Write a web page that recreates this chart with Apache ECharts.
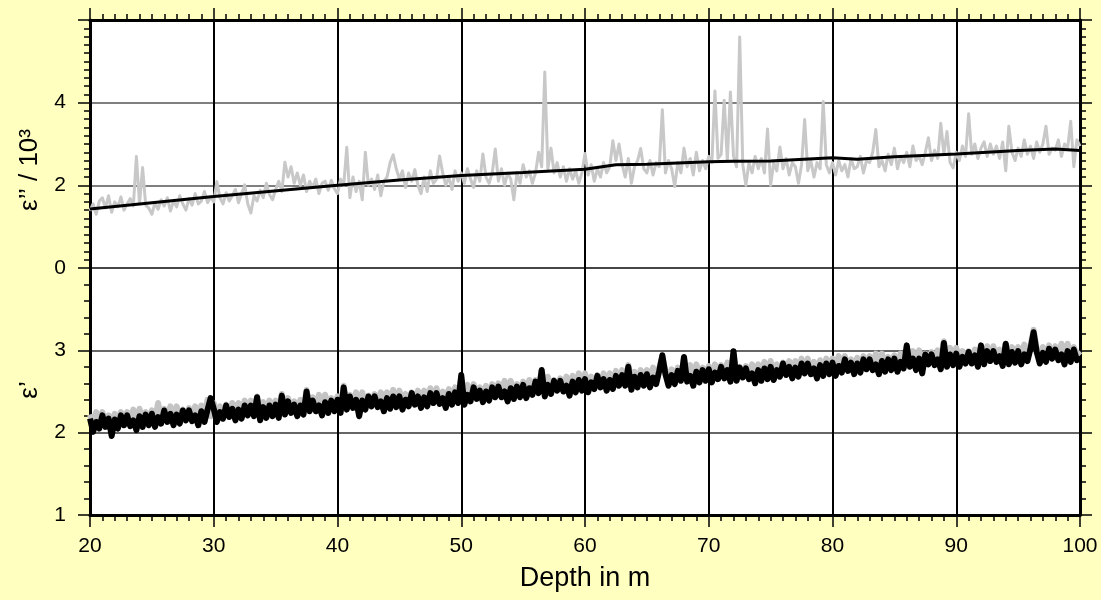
<!DOCTYPE html>
<html>
<head>
<meta charset="utf-8">
<script src="https://cdn.jsdelivr.net/npm/echarts@6.0.0/dist/echarts.min.js"></script>
<style>
html,body{margin:0;padding:0;background:#ffffc0;}
#chart{width:1101px;height:600px;}
</style>
</head>
<body>
<div id="chart"></div>
<script>
// Depth grid: 20 m to 100 m in 0.25 m steps
const depthStart = 20;
const depthStep = 0.25;

// Top panel: epsilon'' / 10^3 (grey raw trace)
const epsDoubleRaw = [
1.38,1.55,1.30,1.62, 1.70,1.45,1.75,1.35, 1.60,1.48,1.72,1.40, 1.55,1.68,1.50,2.70, 1.55,2.43,1.52,1.45,
1.30,1.58,1.42,1.65, 1.50,1.70,1.38,1.62, 1.48,1.75,1.55,1.40, 1.68,1.52,1.80,1.55, 1.62,1.85,1.58,1.72,
1.60,2.09,1.70,1.55, 1.82,1.62,1.75,1.90, 1.58,1.80,2.01,1.55, 1.33,1.75,1.62,1.88, 1.70,2.05,1.78,1.65,
1.90,2.10,1.85,2.56, 2.20,2.45,2.05,2.30, 2.00,2.25,1.85,2.10, 1.95,2.15,1.80,2.05, 2.10,1.88,2.12,1.92,
1.80,2.15,2.00,2.92, 1.70,2.20,1.85,2.10, 1.65,2.80,2.00,2.15, 1.90,2.25,1.75,2.10, 2.20,2.55,2.74,2.40,
2.15,2.35,1.95,2.30, 2.10,2.38,2.00,1.80, 2.20,1.85,2.35,2.05, 2.15,2.71,2.30,2.00, 2.20,1.90,2.35,2.10,
2.30,2.05,2.40,2.15, 1.95,2.35,2.10,2.76, 2.20,2.05,2.30,2.88, 2.10,2.40,2.00,2.30, 2.15,1.65,2.30,2.05,
2.50,2.20,2.35,2.05, 2.30,2.80,2.45,4.74, 2.40,2.90,2.30,2.55, 2.20,2.45,2.10,2.40, 2.15,2.35,2.05,2.30,
2.77,2.25,2.50,2.10, 2.40,2.20,2.55,2.30, 2.45,3.08,2.60,3.00, 2.50,2.20,2.65,2.05, 2.45,2.60,2.89,2.40,
2.30,2.60,2.25,2.55, 2.45,3.83,2.30,2.60, 2.40,1.97,2.55,2.30, 2.90,2.45,2.65,2.25, 2.80,2.35,2.60,2.40,
2.70,2.55,4.28,2.65, 2.75,4.06,2.60,4.26, 2.70,2.45,5.59,2.50, 2.00,2.55,2.30,2.70, 2.40,2.65,2.30,3.36,
2.00,2.55,2.35,2.93, 2.40,2.65,2.25,2.55, 2.45,2.05,2.50,3.59, 2.35,2.60,2.20,2.55, 2.40,4.03,2.50,2.30,
2.55,2.25,2.60,2.35, 2.50,2.20,2.65,2.40, 2.45,2.70,2.30,2.60, 2.55,2.80,3.35,2.45, 2.60,2.35,2.75,2.50,
2.90,2.40,2.70,2.55, 2.80,2.45,2.95,2.60, 2.70,2.50,2.80,3.15, 2.60,2.85,2.65,3.50, 2.75,3.30,2.55,2.42,
2.80,2.60,2.95,2.70, 3.73,2.75,3.00,2.65, 2.90,3.05,2.70,3.00, 2.75,2.95,2.65,3.05, 2.35,3.43,2.80,2.60,
2.90,2.70,3.10,2.75, 2.95,2.65,3.05,2.80, 3.00,3.43,2.75,2.90, 2.85,3.10,2.70,3.00, 2.90,3.55,2.45,3.10,
2.95
];

// Top panel: smoothed epsilon'' / 10^3 (black)
const trendDepth  = [20, 30, 40, 45, 50, 55, 60, 62.5, 65, 70, 72, 75, 80, 82, 85, 90, 95, 98, 100];
const trendValues = [1.43,1.73,2.00,2.13,2.24,2.31,2.39,2.50,2.51,2.57,2.58,2.59,2.67,2.63,2.69,2.76,2.84,2.88,2.84];

// Bottom panel: epsilon' (grey trace)
const epsPrimeGrey = [
2.22,2.11,2.25,2.09, 2.25,2.11,2.21,2.12, 2.23,2.10,2.25,2.14, 2.25,2.14,2.28,2.12, 2.29,2.15,2.25,2.16,
2.27,2.14,2.36,2.18, 2.29,2.18,2.32,2.16, 2.32,2.18,2.28,2.19, 2.30,2.17,2.32,2.21, 2.33,2.22,2.40,2.20,
2.36,2.22,2.32,2.23, 2.34,2.21,2.36,2.25, 2.36,2.25,2.39,2.23, 2.39,2.25,2.44,2.26, 2.37,2.24,2.39,2.28,
2.39,2.28,2.47,2.26, 2.42,2.28,2.38,2.29, 2.40,2.27,2.52,2.31, 2.43,2.32,2.46,2.30, 2.46,2.32,2.42,2.33,
2.44,2.31,2.57,2.35, 2.46,2.35,2.49,2.33, 2.49,2.35,2.45,2.36, 2.47,2.34,2.49,2.38, 2.49,2.38,2.52,2.36,
2.51,2.37,2.47,2.38, 2.49,2.36,2.51,2.40, 2.51,2.40,2.54,2.38, 2.54,2.40,2.50,2.41, 2.53,2.40,2.55,2.44,
2.66,2.44,2.58,2.42, 2.59,2.45,2.55,2.46, 2.57,2.44,2.59,2.48, 2.60,2.49,2.63,2.47, 2.63,2.49,2.59,2.50,
2.62,2.49,2.64,2.53, 2.64,2.53,2.76,2.51, 2.68,2.54,2.64,2.55, 2.66,2.53,2.68,2.57, 2.69,2.58,2.72,2.56,
2.72,2.58,2.68,2.59, 2.70,2.57,2.72,2.61, 2.72,2.61,2.75,2.59, 2.76,2.62,2.82,2.63, 2.74,2.61,2.76,2.65,
2.76,2.65,2.79,2.63, 2.79,2.92,2.75,2.66, 2.77,2.64,2.79,2.68, 2.90,2.68,2.82,2.66, 2.83,2.69,2.79,2.70,
2.81,2.68,2.83,2.72, 2.82,2.71,2.85,2.69, 2.96,2.70,2.80,2.71, 2.81,2.68,2.83,2.72, 2.83,2.72,2.86,2.70,
2.87,2.73,2.83,2.74, 2.85,2.72,2.87,2.76, 2.87,2.76,2.90,2.74, 2.90,2.76,2.86,2.77, 2.88,2.75,2.90,2.79,
2.90,2.79,2.93,2.77, 2.93,2.79,2.89,2.80, 2.91,2.78,2.93,2.82, 2.93,2.82,2.96,2.80, 2.96,2.82,2.92,2.83,
2.94,2.81,2.96,2.85, 3.04,2.85,2.99,2.83, 3.00,2.86,2.96,2.87, 2.98,2.85,3.00,2.89, 3.11,2.89,3.03,2.87,
3.03,2.89,2.99,2.90, 2.99,2.86,3.01,2.90, 3.05,2.91,3.05,2.89, 3.05,2.91,3.01,2.92, 3.07,2.89,3.04,2.93,
3.04,2.93,3.07,2.91, 3.06,3.25,3.02,2.93, 3.04,2.91,3.06,2.95, 3.05,2.94,3.08,2.92, 3.08,2.94,3.04,2.95,
2.99
];

// Bottom panel: epsilon' (black trace)
const epsPrimeBlack = [
2.17,2.01,2.13,2.05, 2.21,2.07,2.17,1.96, 2.16,2.05,2.21,2.09, 2.21,2.08,2.15,2.03, 2.20,2.07,2.22,2.09,
2.23,2.07,2.19,2.11, 2.27,2.13,2.23,2.09, 2.22,2.11,2.27,2.15, 2.27,2.14,2.21,2.09, 2.26,2.13,2.28,2.42,
2.29,2.13,2.25,2.17, 2.33,2.19,2.29,2.15, 2.28,2.17,2.33,2.21, 2.33,2.20,2.43,2.15, 2.31,2.18,2.33,2.20,
2.34,2.18,2.45,2.22, 2.38,2.24,2.34,2.20, 2.33,2.22,2.50,2.26, 2.39,2.26,2.33,2.21, 2.37,2.24,2.39,2.26,
2.40,2.24,2.55,2.28, 2.44,2.30,2.40,2.20, 2.39,2.28,2.44,2.32, 2.44,2.31,2.38,2.26, 2.42,2.29,2.44,2.31,
2.44,2.28,2.40,2.32, 2.48,2.34,2.44,2.30, 2.43,2.32,2.48,2.36, 2.48,2.35,2.42,2.30, 2.47,2.34,2.49,2.36,
2.70,2.34,2.46,2.38, 2.55,2.41,2.51,2.37, 2.50,2.39,2.55,2.43, 2.56,2.43,2.50,2.38, 2.54,2.41,2.56,2.43,
2.58,2.42,2.54,2.46, 2.62,2.48,2.76,2.44, 2.58,2.47,2.63,2.51, 2.63,2.50,2.57,2.45, 2.62,2.49,2.64,2.51,
2.65,2.49,2.61,2.53, 2.69,2.55,2.65,2.51, 2.64,2.53,2.69,2.57, 2.70,2.57,2.80,2.52, 2.68,2.55,2.70,2.57,
2.71,2.55,2.67,2.59, 2.75,2.94,2.71,2.57, 2.70,2.59,2.75,2.63, 2.92,2.62,2.69,2.57, 2.74,2.61,2.76,2.63,
2.77,2.61,2.73,2.65, 2.80,2.66,2.76,2.62, 2.99,2.63,2.79,2.67, 2.78,2.65,2.72,2.60, 2.76,2.63,2.78,2.65,
2.80,2.64,2.76,2.68, 2.84,2.70,2.80,2.66, 2.79,2.68,2.84,2.72, 2.84,2.71,2.78,2.66, 2.82,2.69,2.84,2.71,
2.85,2.69,2.81,2.73, 2.89,2.75,2.85,2.71, 2.84,2.73,2.89,2.77, 2.89,2.76,2.83,2.71, 2.87,2.74,2.89,2.76,
2.90,2.74,2.86,2.78, 3.06,2.80,2.90,2.76, 2.90,2.72,2.95,2.83, 2.95,2.82,2.89,2.77, 3.09,2.80,2.95,2.82,
2.96,2.80,2.92,2.84, 2.98,2.84,2.94,2.80, 3.06,2.83,2.99,2.87, 2.99,2.86,2.93,2.81, 3.08,2.83,2.98,2.85,
2.99,2.83,2.95,2.87, 3.02,3.22,2.98,2.84, 2.97,2.86,3.02,2.90, 3.01,2.88,2.95,2.83, 2.99,2.86,3.01,2.88,
2.92
];

// Axis ticks
const xTicks = {min: 20, max: 100, interval: 10};
const topTicks = {min: 0, max: 6, interval: 2};
const bottomTicks = {min: 1, max: 4, interval: 1};

const FONT = '"Liberation Sans", Arial, Helvetica, sans-serif';
const toPairs = vals => vals.map((v, i) => [depthStart + i * depthStep, v]);

const chart = echarts.init(document.getElementById('chart'), null, {renderer: 'canvas'});

const axisLineStyle = {show: true, onZero: false, lineStyle: {color: '#000', width: 3}};
const tickStyle = {show: true, inside: false, length: 12, lineStyle: {color: '#000', width: 1.5}};
const minorTickStyle = (n) => ({show: true, splitNumber: n, length: 6, lineStyle: {color: '#000', width: 1.5}});

const baseX = (gridIndex, position, labels) => ({
  type: 'value', gridIndex, position,
  min: xTicks.min, max: xTicks.max, interval: xTicks.interval,
  axisLine: axisLineStyle,
  axisTick: tickStyle,
  minorTick: minorTickStyle(10),
  splitLine: {show: true, lineStyle: {color: '#000', width: 2}},
  axisLabel: labels ? {show: true, fontSize: 21, fontFamily: FONT, color: '#000', margin: 21} : {show: false},
  name: labels ? 'Depth in m' : '',
  nameLocation: 'middle',
  nameGap: 50,
  nameTextStyle: {fontSize: 27, fontFamily: FONT, color: '#000'}
});

const baseY = (gridIndex, position, t, minorN, labelFn, split, splitColor) => ({
  type: 'value', gridIndex, position,
  min: t.min, max: t.max, interval: t.interval,
  axisLine: axisLineStyle,
  axisTick: tickStyle,
  minorTick: minorTickStyle(minorN),
  splitLine: {show: split, lineStyle: {color: splitColor, width: 1.5}},
  axisLabel: labelFn ? {show: true, fontSize: 21, fontFamily: FONT, color: '#000', margin: 24, formatter: labelFn} : {show: false}
});

const option = {
  backgroundColor: '#ffffc0',
  animation: false,
  grid: [
    {left: 90, right: 21, top: 20, height: 248, show: true, backgroundColor: '#ffffff', borderWidth: 0},
    {left: 90, right: 21, top: 268, height: 247, show: true, backgroundColor: '#ffffff', borderWidth: 0}
  ],
  xAxis: [
    baseX(0, 'top', false),
    baseX(1, 'bottom', true)
  ],
  yAxis: [
    baseY(0, 'left', topTicks, 10, v => (v === 6 ? '' : String(v)), true, '#555'),
    baseY(0, 'right', topTicks, 10, null, false, '#555'),
    baseY(1, 'left', bottomTicks, 5, v => (v === 4 ? '' : String(v)), true, '#333'),
    baseY(1, 'right', bottomTicks, 5, null, false, '#333')
  ],
  graphic: [
    {type: 'text', x: 30, y: 170, rotation: Math.PI / 2,
     style: {text: 'ε’’ / 10³', font: '26px ' + FONT, fill: '#000', align: 'center', verticalAlign: 'middle'}},
    {type: 'text', x: 30, y: 390, rotation: Math.PI / 2,
     style: {text: 'ε’', font: '26px ' + FONT, fill: '#000', align: 'center', verticalAlign: 'middle'}}
  ],
  series: [
    {type: 'line', xAxisIndex: 0, yAxisIndex: 0, data: toPairs(epsDoubleRaw), showSymbol: false, symbol: 'none',
     lineStyle: {color: '#c8c8c8', width: 3, join: 'round'}, z: 2},
    {type: 'line', xAxisIndex: 0, yAxisIndex: 0, data: trendDepth.map((d, i) => [d, trendValues[i]]), showSymbol: false, symbol: 'none',
     lineStyle: {color: '#000', width: 3}, z: 3},
    {type: 'line', xAxisIndex: 1, yAxisIndex: 2, data: toPairs(epsPrimeGrey), showSymbol: false, symbol: 'none',
     lineStyle: {color: '#c4c4c4', width: 6, join: 'round'}, z: 2},
    {type: 'line', xAxisIndex: 1, yAxisIndex: 2, data: toPairs(epsPrimeBlack), showSymbol: false, symbol: 'none',
     lineStyle: {color: '#000', width: 6, join: 'round'}, z: 3}
  ]
};
chart.setOption(option);
</script>
</body>
</html>
